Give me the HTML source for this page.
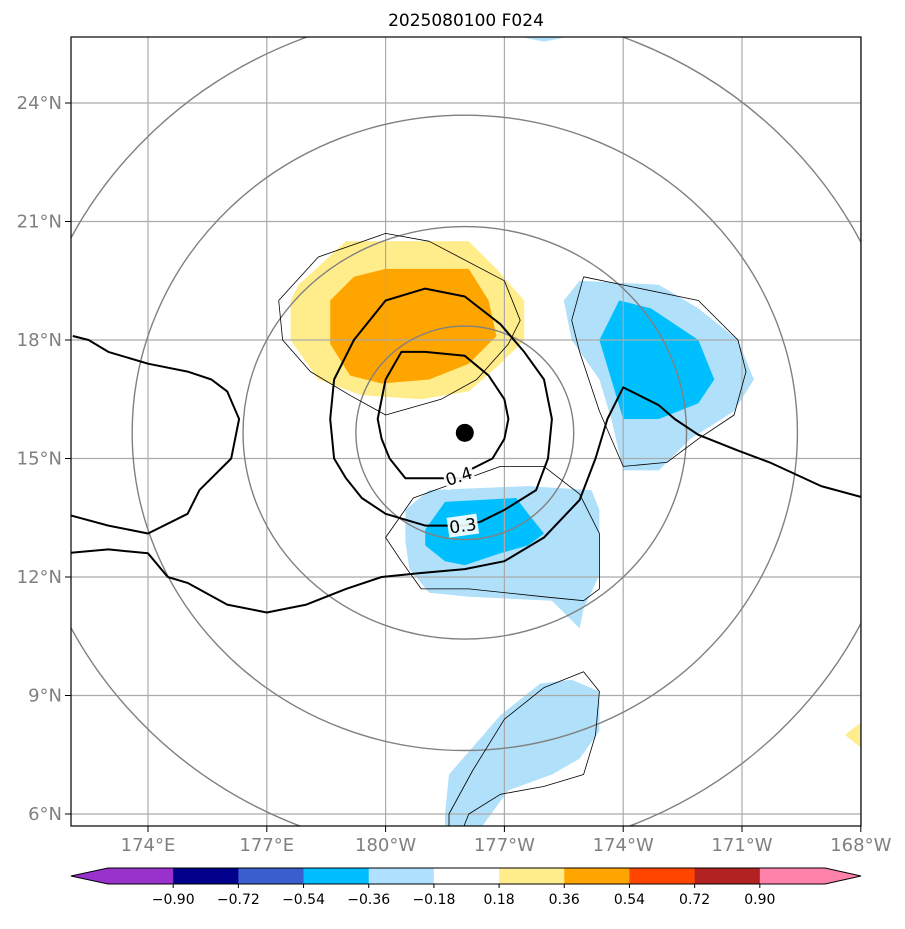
<!DOCTYPE html>
<html><head><meta charset="utf-8"><style>
body{margin:0;background:#fff;}
svg text{font-family:"DejaVu Sans","Liberation Sans",sans-serif;}
</style></head><body>
<svg id="c" width="905" height="924" xmlns="http://www.w3.org/2000/svg">
<defs><clipPath id="clip"><rect x="71" y="37" width="790" height="789"/></clipPath></defs>
<rect width="905" height="924" fill="#fff"/>
<text x="466" y="26" text-anchor="middle" font-size="17">2025080100 F024</text>
<g id="plot" clip-path="url(#clip)"></g>
<rect x="71" y="37" width="790" height="789" fill="none" stroke="#000" stroke-width="1.2"/>
<g id="axes"></g>
<g id="cbar"></g>
</svg>
<script>
const lonTicks=[174,177,180,183,186,189,192];
const lonLabels=["174°E","177°E","180°W","177°W","174°W","171°W","168°W"];
const latTicks=[6,9,12,15,18,21,24];
const latLabels=["6°N","9°N","12°N","15°N","18°N","21°N","24°N"];
const cbLevels=["−0.90","−0.72","−0.54","−0.36","−0.18","0.18","0.36","0.54","0.72","0.90"];
const cbColors=["#9932CC","#00008B","#3A5FCD","#00BFFF","#B0E2FF","#FFFFFF","#FFEC8B","#FFA500","#FF4500","#B22222","#FF82AB"];
const center=[182.0,15.65];
const ringRadiiDeg=[2.75,5.6,8.4,11.2];
const ringFlatten=[0.98,0.93,0.955,0.955];
const fillYellow=[[177.6,19.0],[177.8,19.4],[179.0,20.5],[182.1,20.5],[182.8,19.8],[183.5,19.0],[183.5,18.0],[182.9,17.4],[182.1,16.7],[180.9,16.5],[179.4,16.6],[178.3,17.0],[177.6,18.0]];
const fillOrange=[[178.6,19.0],[179.2,19.6],[180.0,19.8],[182.1,19.8],[182.6,19.0],[182.8,18.1],[182.1,17.4],[181.1,17.0],[179.9,16.9],[179.1,17.1],[178.6,17.9]];
const fillBlueNE=[[184.5,19.0],[184.9,19.5],[186.9,19.4],[187.9,18.8],[188.9,18.0],[189.3,17.0],[188.8,16.2],[187.7,15.5],[186.9,14.7],[186.0,14.7],[185.7,16.0],[185.4,17.0],[184.7,18.0]];
const fillDeepNE=[[185.4,18.0],[185.9,19.0],[186.7,18.8],[187.9,18.0],[188.3,17.0],[187.9,16.4],[186.9,16.0],[186.0,16.0],[185.7,17.0]];
const fillBlueC=[[180.5,13.7],[181.1,14.2],[183.6,14.3],[185.2,14.2],[185.4,13.7],[185.4,12.05],[185.0,11.2],[184.9,10.7],[184.5,11.1],[184.2,11.4],[182.1,11.5],[181.1,11.6],[180.6,12.2],[180.5,12.9]];
const fillDeepC=[[181.0,13.2],[181.5,13.9],[183.3,14.0],[183.6,13.6],[184.0,13.1],[183.6,12.8],[182.9,12.6],[182.0,12.3],[181.5,12.4],[181.0,12.8]];
const fillBlueS=[[181.6,7.0],[182.9,8.5],[183.9,9.3],[184.7,9.4],[185.4,9.1],[185.4,8.1],[184.9,7.4],[184.2,7.0],[183.1,6.6],[182.3,5.5],[181.5,5.5],[181.5,6.0]];
const fillBlueTop=[[183.1,25.8],[183.3,25.7],[184.0,25.55],[184.7,25.7],[184.9,25.8]];
const fillYellowSE=[[192.1,8.4],[191.6,8.0],[192.1,7.6]];
const c03=[[178.7,17.0],[179.2,18.0],[180.0,19.0],[181.0,19.3],[182.0,19.1],[182.9,18.4],[183.5,17.7],[184.0,17.0],[184.2,16.0],[184.1,15.0],[183.8,14.2],[183.0,13.7],[182.4,13.4],[182.0,13.3],[181.0,13.3],[180.0,13.6],[179.4,14.0],[179.0,14.5],[178.7,15.0],[178.6,16.0],[178.7,17.0]];
const c04=[[180.0,17.0],[180.4,17.7],[181.0,17.7],[182.0,17.6],[182.6,17.1],[183.0,16.5],[183.1,16.0],[183.0,15.5],[182.7,15.0],[182.1,14.7],[182.0,14.5],[181.0,14.5],[180.5,14.5],[180.1,15.0],[179.9,15.5],[179.8,16.0],[180.0,17.0]];
const cWest=[[172.1,18.1],[172.5,18.0],[173.0,17.7],[174.0,17.4],[175.0,17.2],[175.6,17.0],[176.0,16.7],[176.3,16.0],[176.1,15.0],[175.3,14.2],[175.0,13.6],[174.0,13.1],[173.0,13.3],[171.9,13.6]];
const cLong=[[171.9,12.6],[173.0,12.7],[174.0,12.6],[174.5,12.0],[175.0,11.85],[176.0,11.3],[177.0,11.1],[178.0,11.3],[179.0,11.7],[179.9,12.0],[180.9,12.1],[182.0,12.2],[183.0,12.4],[184.0,13.0],[184.9,13.95],[185.3,15.0],[185.6,16.0],[186.0,16.8],[186.9,16.35],[187.3,16.0],[187.9,15.6],[188.9,15.2],[189.7,14.9],[191.0,14.3],[192.1,14.0]];
const tYellow=[[177.3,19.0],[178.3,20.1],[180.0,20.7],[181.1,20.5],[183.0,19.5],[183.4,18.5],[183.1,17.9],[182.3,17.0],[181.4,16.5],[180.0,16.1],[179.1,16.6],[178.1,17.2],[177.4,18.0],[177.3,19.0]];
const tNE=[[185.0,19.6],[187.9,19.0],[188.9,18.0],[189.1,17.2],[188.8,16.1],[187.9,15.5],[187.1,14.9],[186.0,14.8],[185.4,16.2],[184.9,17.7],[184.7,18.5],[185.0,19.6]];
const tC=[[180.0,13.0],[180.7,14.0],[182.9,14.8],[184.0,14.8],[184.9,14.1],[185.4,13.1],[185.4,11.7],[185.0,11.4],[184.0,11.5],[182.1,11.7],[180.9,11.7],[180.4,12.4],[180.0,13.0]];
const tS=[[181.6,5.5],[181.6,6.0],[182.2,7.1],[183.0,8.4],[184.0,9.2],[185.0,9.6],[185.4,9.1],[185.3,8.0],[185.0,7.0],[184.0,6.7],[182.9,6.5],[182.1,6.0],[181.9,5.5]];

const X=lon=>148+(lon-174)*39.6;
const Y=lat=>814-(lat-6)*39.5;
const NS="http://www.w3.org/2000/svg";
function mk(tag,attrs,parent){const e=document.createElementNS(NS,tag);for(const k in attrs)e.setAttribute(k,attrs[k]);parent.appendChild(e);return e;}
const plot=document.getElementById('plot');
const axes=document.getElementById('axes');
const pts=a=>a.map(p=>X(p[0]).toFixed(1)+','+Y(p[1]).toFixed(1)).join(' ');

function fill(arr,col,name){const e=mk('polygon',{points:pts(arr),fill:col},plot);

}
fill(fillYellow,'#FFEC8B','shade-positive-036');
fill(fillOrange,'#FFA500','shade-positive-054');
fill(fillBlueNE,'#B0E0FA','shade-negative-018-ne');
fill(fillDeepNE,'#00BFFF','shade-negative-036-ne');
fill(fillBlueC,'#B0E0FA','shade-negative-018-center');
fill(fillDeepC,'#00BFFF','shade-negative-036-center');
fill(fillBlueS,'#B0E0FA','shade-negative-018-south');
fill(fillBlueTop,'#B0E0FA','shade-negative-018-top');
fill(fillYellowSE,'#FFEC8B','shade-positive-se');

lonTicks.forEach(l=>{const e=mk('line',{x1:X(l),x2:X(l),y1:37,y2:826,stroke:'#aaa','stroke-width':1.2},plot);

});
latTicks.forEach(l=>{const e=mk('line',{x1:71,x2:861,y1:Y(l),y2:Y(l),stroke:'#aaa','stroke-width':1.2},plot);

});
ringRadiiDeg.forEach((r,i)=>{const e=mk('ellipse',{cx:X(center[0]),cy:Y(center[1]),rx:r*39.6,ry:r*39.6*ringFlatten[i],fill:'none',stroke:'#808080','stroke-width':1.4},plot);

});

function line(arr,w,name){const e=mk('polyline',{points:pts(arr),fill:'none',stroke:'#000','stroke-width':w,'stroke-linejoin':'round'},plot);

}
line(tYellow,0.8,'thin-contour-north');
line(tNE,0.8,'thin-contour-ne');
line(tC,0.8,'thin-contour-center');
line(tS,0.8,'thin-contour-south');
line(c03,2,'contour-0.3');
line(c04,2,'contour-0.4');
line(cWest,2,'contour-west');
line(cLong,2,'contour-long');

function lab(t,lon,lat,rot,name){const g=mk('g',{transform:`translate(${X(lon)},${Y(lat)}) rotate(${rot})`},plot);
mk('rect',{x:-15,y:-10,width:30,height:20,fill:'#fff','fill-opacity':0.9},g);
const e=mk('text',{x:0,y:6,'text-anchor':'middle','font-size':17},g);e.textContent=t;

}
lab('0.4',181.85,14.55,-18,'contour-label-0.4');
lab('0.3',181.95,13.3,-8,'contour-label-0.3');

const dot=mk('circle',{cx:X(center[0]),cy:Y(center[1]),r:9,fill:'#000'},plot);



lonTicks.forEach((l,i)=>{mk('line',{x1:X(l),x2:X(l),y1:826,y2:832,stroke:'#000'},axes);
const e=mk('text',{x:X(l),y:851,'text-anchor':'middle','font-size':18,fill:'#808080'},axes);e.textContent=lonLabels[i];

});
latTicks.forEach((l,i)=>{mk('line',{x1:65,x2:71,y1:Y(l),y2:Y(l),stroke:'#000'},axes);
const e=mk('text',{x:62,y:Y(l)+6,'text-anchor':'end','font-size':18,fill:'#808080'},axes);e.textContent=latLabels[i];

});

const cb=document.getElementById('cbar');
const cx0=108,cw=(825-108)/11,cy=868,ch=16;
cbColors.forEach((c,i)=>{const e=mk('rect',{x:cx0+i*cw,y:cy,width:cw+0.5,height:ch,fill:c},cb);

});
const lt=mk('polygon',{points:`71,${cy+ch/2} ${cx0},${cy} ${cx0},${cy+ch}`,fill:cbColors[0]},cb);


const rt=mk('polygon',{points:`861,${cy+ch/2} 825,${cy} 825,${cy+ch}`,fill:cbColors[10]},cb);


mk('polygon',{points:`71,${cy+ch/2} ${cx0},${cy} 825,${cy} 861,${cy+ch/2} 825,${cy+ch} ${cx0},${cy+ch}`,fill:'none',stroke:'#000','stroke-width':1},cb);
cbLevels.forEach((t,i)=>{const x=cx0+(i+1)*cw;mk('line',{x1:x,x2:x,y1:cy+ch,y2:cy+ch+4,stroke:'#000'},cb);
const e=mk('text',{x:x,y:cy+ch+20,'text-anchor':'middle','font-size':14},cb);e.textContent=t;

});
</script>
</body></html>
